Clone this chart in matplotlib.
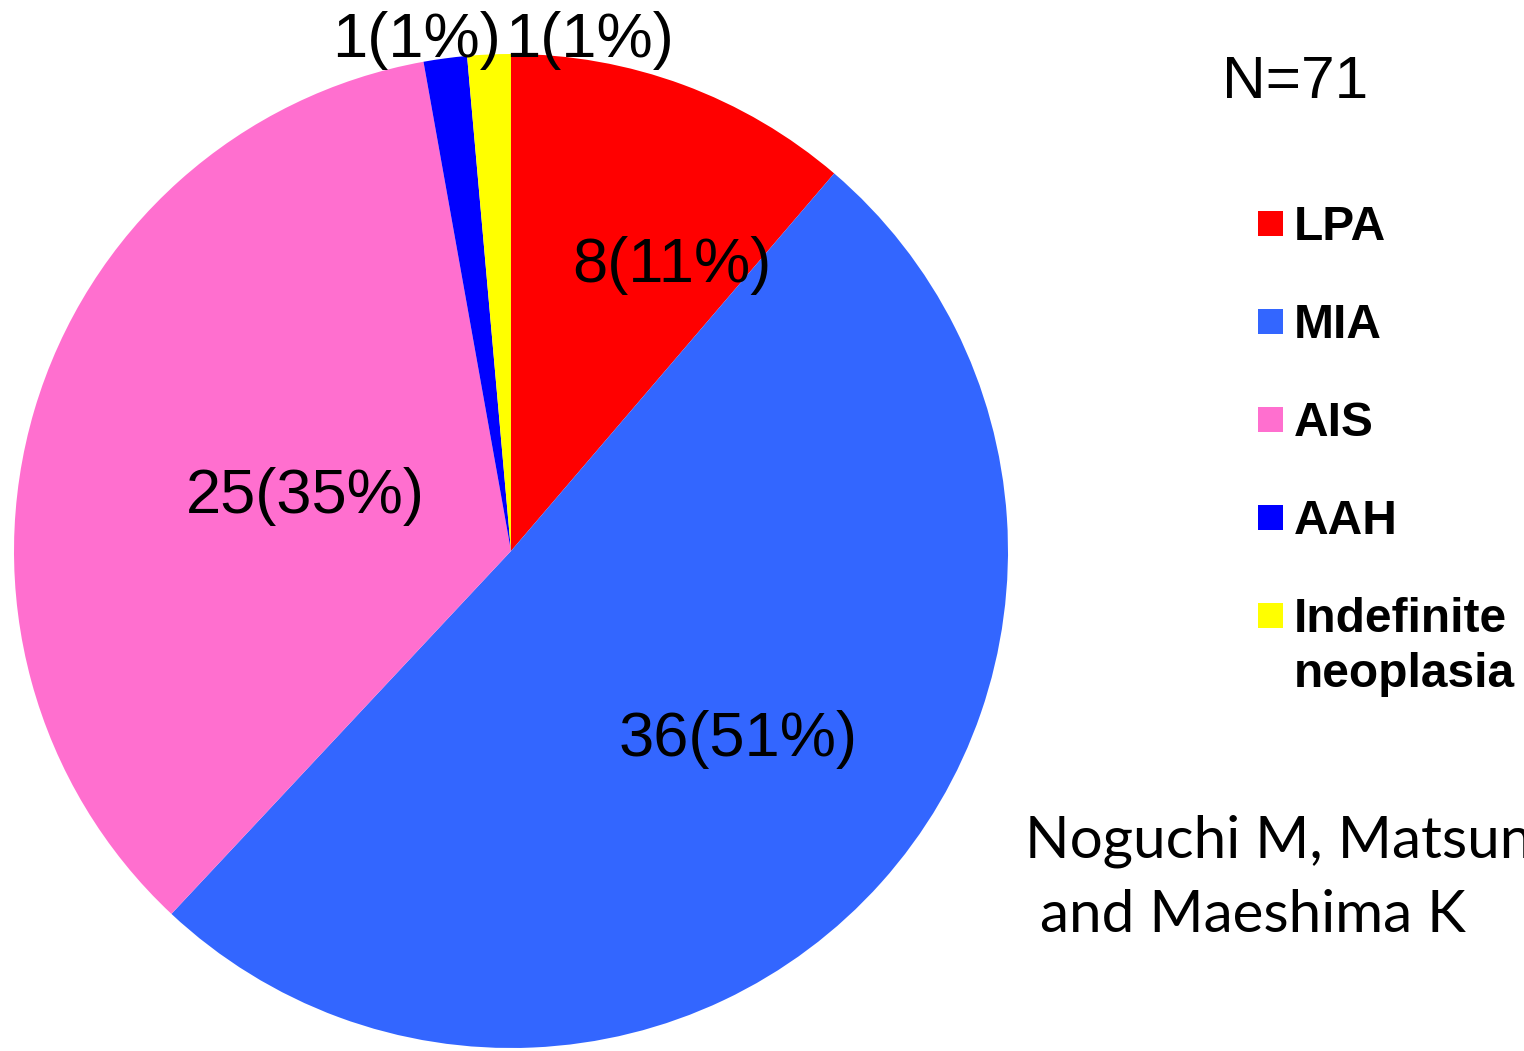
import matplotlib
matplotlib.use("Agg")
import matplotlib.pyplot as plt
from matplotlib.patches import Rectangle

# Histological subtypes, clockwise from 12 o'clock
categories = ["LPA", "MIA", "AIS", "AAH", "Indefinite\nneoplasia"]
counts = [8, 36, 25, 1, 1]
colors = ["#FF0000", "#3366FF", "#FF6FCF", "#0000FF", "#FFFF00"]
n_total = sum(counts)
citation = ["Noguchi M, Matsun", " and Maeshima K"]

W, H = 1524, 1051
fig = plt.figure(figsize=(W / 100, H / 100), dpi=100)

# pie area: square box, radius ~497 px centred at (511, 551)
ax = fig.add_axes([14 / W, 3 / H, 994 / W, 994 / H])
ax.pie(counts, colors=colors, startangle=90, counterclock=False,
       radius=1, wedgeprops=dict(linewidth=0))
ax.set_xlim(-1, 1)
ax.set_ylim(-1, 1)
ax.set_axis_off()

# value labels (count and rounded percentage)
label_pos = [(0.324, 0.575, "center", "center"),
             (0.457, -0.380, "center", "center"),
             (-0.414, 0.109, "center", "center"),
             (-0.020, 0.994, "right", "baseline"),
             (-0.012, 0.994, "left", "baseline")]
for c, (x, y, ha, va) in zip(counts, label_pos):
    pct = round(100 * c / n_total)
    ax.text(x, y, f"{c}({pct}%)", ha=ha, va=va, fontsize=45.5,
            family="Liberation Sans", color="black", clip_on=False)

# overlay in pixel coordinates for legend and notes
ov = fig.add_axes([0, 0, 1, 1])
ov.set_xlim(0, W)
ov.set_ylim(H, 0)
ov.set_axis_off()
ov.patch.set_alpha(0)

ov.text(1222, 98, f"N={n_total}", fontsize=43.5, family="Liberation Sans",
        ha="left", va="baseline")

y0, step = 223.5, 98
for i, (lab, col) in enumerate(zip(categories, colors)):
    yc = y0 + i * step
    ov.add_patch(Rectangle((1258, yc - 12.5), 25, 25, facecolor=col,
                           edgecolor="none"))
    for k, line in enumerate(lab.split("\n")):
        ov.text(1294, yc + 16.5 + k * 55, line, fontsize=34.5,
                fontweight="bold", family="Liberation Sans",
                ha="left", va="baseline")

ov.text(1025, 857, citation[0], fontsize=42, family="Lato",
        ha="left", va="baseline")
ov.text(1025, 932, citation[1], fontsize=42, family="Lato",
        ha="left", va="baseline")

fig.savefig("out.png", dpi=100)
